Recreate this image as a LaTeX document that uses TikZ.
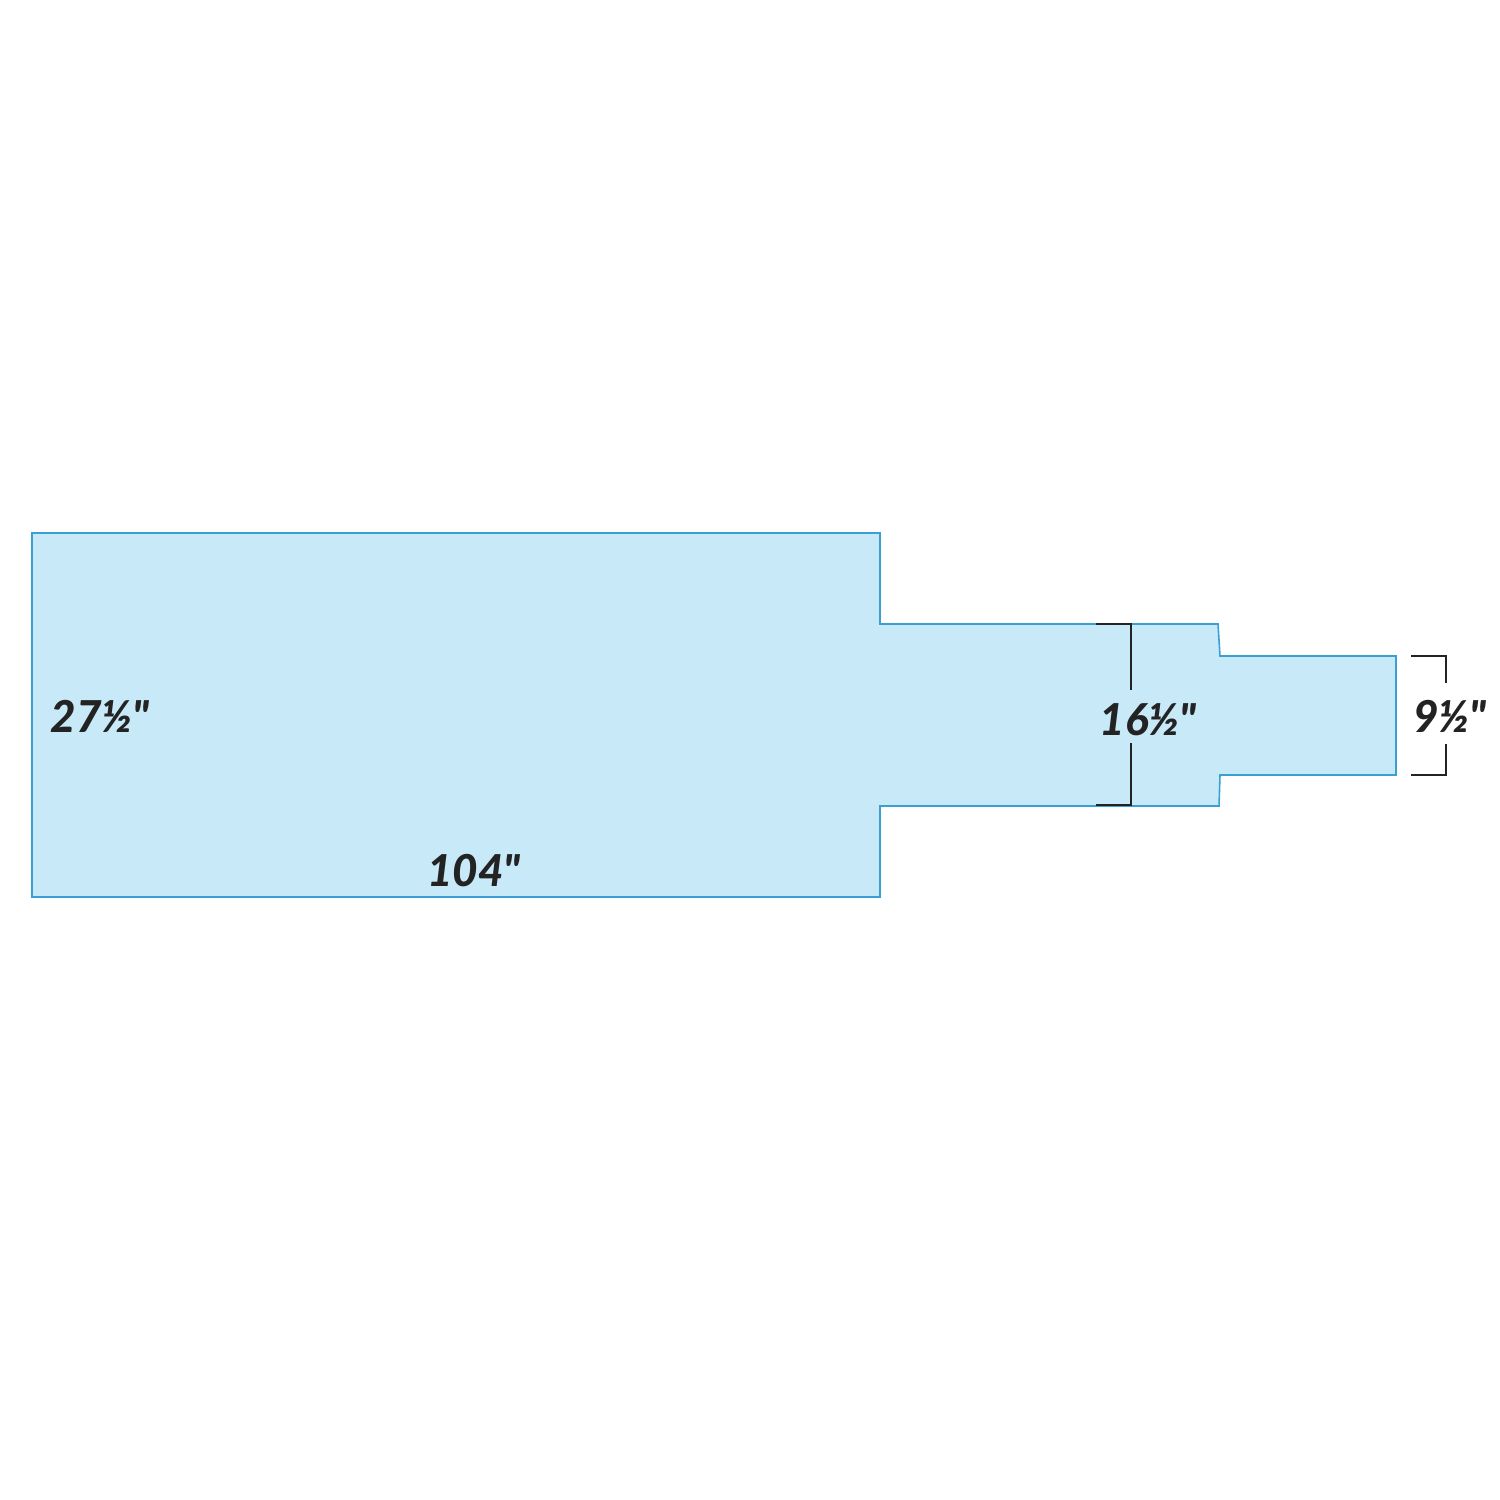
\documentclass[tikz,border=0pt]{standalone}
\usepackage{fontspec}
\setmainfont{Lato}
\newfontfamily\dimfont{Lato Black}[Ligatures=TeXOff]
\definecolor{shapefill}{HTML}{C7E9F8}
\definecolor{shapeline}{HTML}{3AA0D4}
\definecolor{dimline}{HTML}{232323}
\begin{document}
\begin{tikzpicture}[x=0.01cm,y=-0.01cm,
  dimlabel/.style={font=\dimfont\fontsize{12.5pt}{14pt}\selectfont\itshape, text=dimline, inner sep=0pt},
  dimbar/.style={draw=dimline, line width=0.6pt}]
\useasboundingbox (0,0) rectangle (1500,1500);
\fill[white] (0,0) rectangle (1500,1500);
\draw[fill=shapefill, draw=shapeline, line width=0.45pt]
  (32,533) -- (880,533) -- (880,624) -- (1218,624) -- (1220,656) -- (1396,656)
  -- (1396,775) -- (1220,775) -- (1219,806) -- (880,806) -- (880,897) -- (32,897) -- cycle;
\node[dimlabel] (w) at (100,716) {27½"};
\node[dimlabel] (l) at (474,871) {104"};
\node[dimlabel] (m) at (1148,720) {16½"};
\node[dimlabel] (n) at (1450,716) {9½"};
\coordinate (m1) at (1131,624);
\coordinate (m2) at (1131,805);
\draw[dimbar] (1096,624) -- (m1) -- (1131,690);
\draw[dimbar] (1131,743) -- (m2) -- (1096,805);
\coordinate (n1) at (1446,656);
\coordinate (n2) at (1446,775);
\draw[dimbar] (1411,656) -- (n1) -- (1446,683);
\draw[dimbar] (1446,744) -- (n2) -- (1411,775);
\end{tikzpicture}
\end{document}
